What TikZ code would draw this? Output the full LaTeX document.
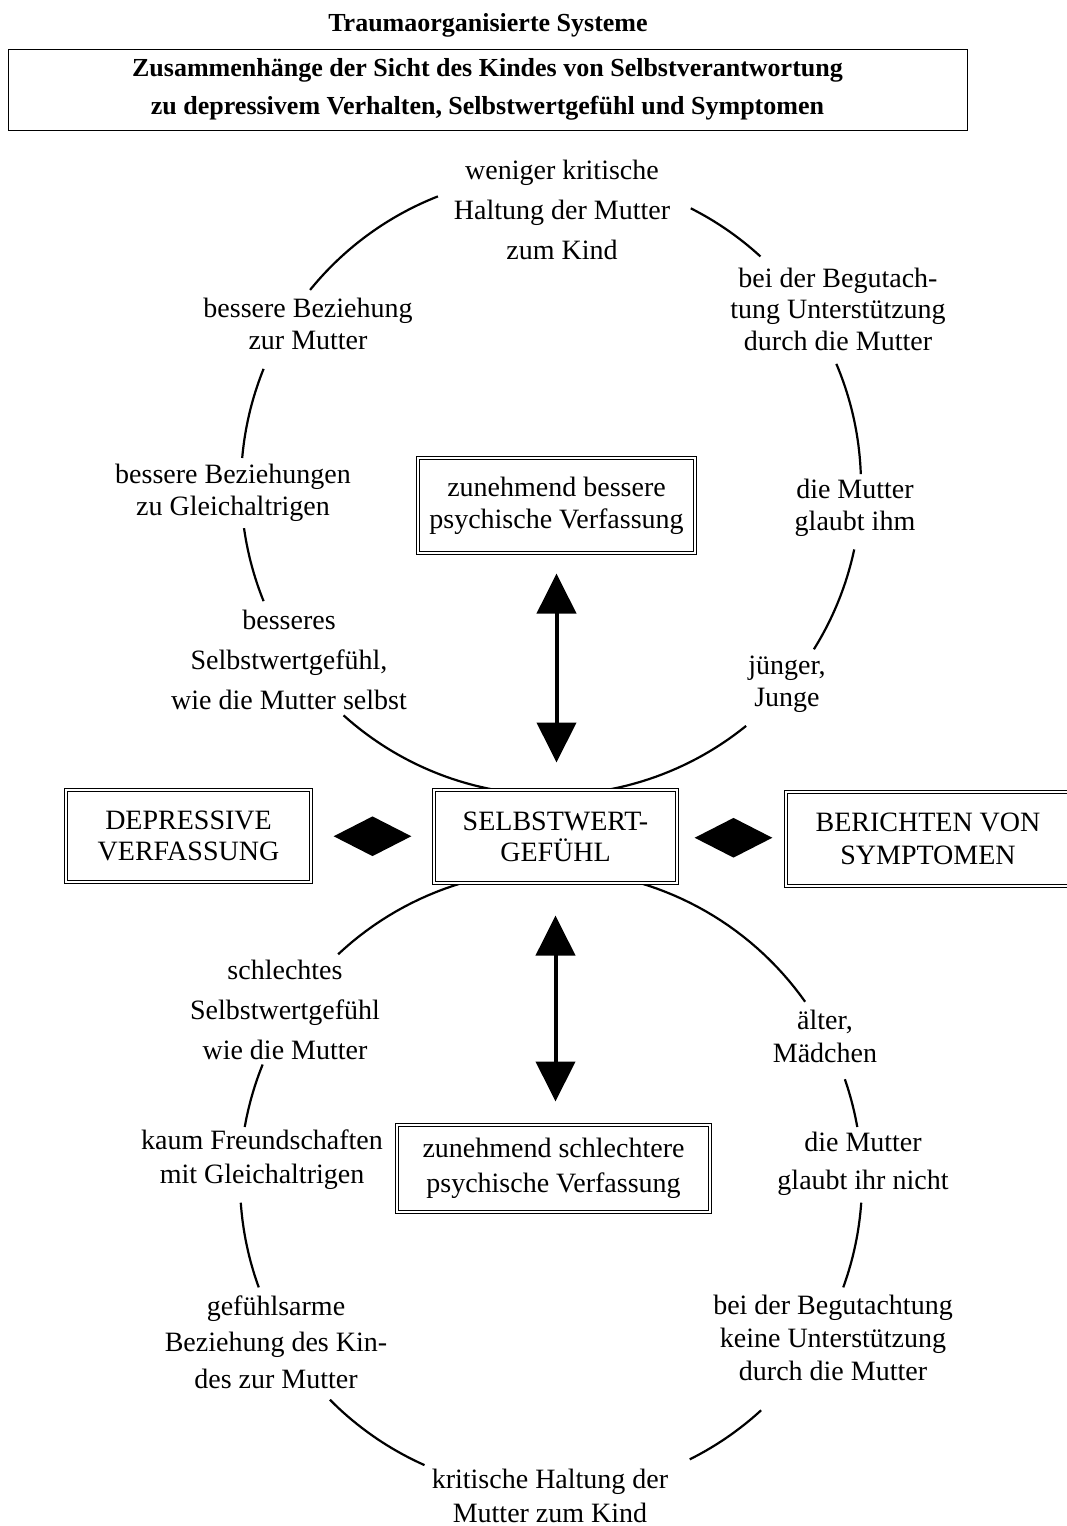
\documentclass[tikz,border=0pt]{standalone}
\usepackage{fontspec}
\setmainfont{Liberation Serif}
\usetikzlibrary{arrows.meta,shapes.geometric,calc}
\begin{document}
\begin{tikzpicture}[x=0.5pt,y=-0.5pt,
  lab/.style={align=center, inner sep=0pt, font=\fontsize{14}{#1}\selectfont},
  lab/.default=16pt,
  frame/.style={draw=black, line width=0.5pt, double=white, double distance=1.2pt,
    fill=white, align=center, inner sep=0pt, font=\fontsize{14}{#1}\selectfont},
  frame/.default=16pt,
  ring/.style={line width=1.1pt},
  dblarrow/.style={line width=2pt, {Triangle[length=20pt,width=19.5pt]}-{Triangle[length=20pt,width=19.5pt]}},
  diam/.style={diamond, fill=black, inner sep=0pt, minimum width=39pt, minimum height=20pt}]
\useasboundingbox (0,0) rectangle (1066,1526);

% upper ring
\draw[ring] plot[domain=111.4:141,samples=30] ({551+310*cos(\x)},{485-310*sin(\x)});
\draw[ring] plot[domain=47.5:63.2,samples=20] ({551+310*cos(\x)},{485-310*sin(\x)});
\draw[ring] plot[domain=158:175,samples=20] ({551+310*cos(\x)},{485-310*sin(\x)});
\draw[ring] plot[domain=2:23,samples=20] ({551+310*cos(\x)},{485-310*sin(\x)});
\draw[ring] plot[domain=188:202,samples=20] ({551+310*cos(\x)},{485-310*sin(\x)});
\draw[ring] plot[domain=-32:-12,samples=20] ({551+310*cos(\x)},{485-310*sin(\x)});
\draw[ring] plot[domain=228:309,samples=60] ({551+310*cos(\x)},{485-310*sin(\x)});

% lower ring
\draw[ring] plot[domain=35.2:133.2,samples=60] ({551+311*cos(\x)},{1181-311*sin(\x)});
\draw[ring] plot[domain=158:170,samples=20] ({551+311*cos(\x)},{1181-311*sin(\x)});
\draw[ring] plot[domain=184:200,samples=20] ({551+311*cos(\x)},{1181-311*sin(\x)});
\draw[ring] plot[domain=224.7:246,samples=20] ({551+311*cos(\x)},{1181-311*sin(\x)});
\draw[ring] plot[domain=296.5:312.5,samples=20] ({551+311*cos(\x)},{1181-311*sin(\x)});
\draw[ring] plot[domain=-20:-4,samples=20] ({551+311*cos(\x)},{1181-311*sin(\x)});
\draw[ring] plot[domain=10:19.1,samples=20] ({551+311*cos(\x)},{1181-311*sin(\x)});

% title and header
\node[font=\bfseries\fontsize{13}{15}\selectfont, inner sep=0pt] (title) at (488,25) {Traumaorganisierte Systeme};
\node[draw=black, line width=0.5pt, align=center, inner sep=0pt,
  minimum width=479.5pt, minimum height=40.5pt,
  font=\bfseries\fontsize{13}{19}\selectfont] (head) at (487.5,89.5)
  {Zusammenhänge der Sicht des Kindes von Selbstverantwortung\\zu depressivem Verhalten, Selbstwertgefühl und Symptomen};

% boxes
\node[frame=16pt, minimum width=138.5pt, minimum height=47.5pt] (ubox) at (556.5,505.5)
  {zunehmend bessere\\psychische Verfassung};
\node[frame=15.5pt, minimum width=121.5pt, minimum height=46.5pt] (sbox) at (555.5,836.5)
  {SELBSTWERT-\\GEFÜHL};
\node[frame=15.5pt, minimum width=122.5pt, minimum height=46pt] (dbox) at (188.5,836)
  {DEPRESSIVE\\VERFASSUNG};
\node[frame=16.5pt, minimum width=142pt, minimum height=47pt] (bbox) at (928,839)
  {BERICHTEN VON\\SYMPTOMEN};
\node[frame=17.5pt, minimum width=156.5pt, minimum height=43.5pt] (lbox) at (553.5,1168.5)
  {zunehmend schlechtere\\psychische Verfassung};

% diamonds
\node[diam] (dl) at ($(dbox.east)!0.5!(sbox.west)$) {};
\node[diam] (dr) at ($(sbox.east)!0.5!(bbox.west)+(2,0)$) {};

% double arrows
\draw[dblarrow, shorten <=10pt, shorten >=13.5pt] (ubox.south) -- (ubox.south |- sbox.north);
\draw[dblarrow, shorten <=16pt, shorten >=11.5pt] (sbox.south) -- (sbox.south |- lbox.north);

% labels upper ring
\node[lab=20pt] (l1) at (562,210) {weniger kritische\\Haltung der Mutter\\zum Kind};
\node[lab=16pt] (l2) at (308,324) {bessere Beziehung\\zur Mutter};
\node[lab=15.75pt] (l3) at (838,309) {bei der Begutach-\\tung Unterstützung\\durch die Mutter};
\node[lab=16pt] (l4) at (233,493) {bessere Beziehungen\\zu Gleichaltrigen};
\node[lab=16pt] (l5) at (855,508) {die Mutter\\glaubt ihm};
\node[lab=20pt] (l6) at (289,660) {besseres\\Selbstwertgefühl,\\wie die Mutter selbst};
\node[lab=16pt] (l7) at (787,684) {jünger,\\Junge};

% labels lower ring
\node[lab=20pt] (l8) at (285,1010) {schlechtes\\Selbstwertgefühl\\wie die Mutter};
\node[lab=17pt] (l9) at (262,1160) {kaum Freundschaften\\mit Gleichaltrigen};
\node[lab=18.25pt] (l10) at (276,1342) {gefühlsarme\\Beziehung des Kin-\\des zur Mutter};
\node[lab=16.5pt] (l11) at (825,1036) {älter,\\Mädchen};
\node[lab=19pt] (l12) at (863,1164) {die Mutter\\glaubt ihr nicht};
\node[lab=16.5pt] (l13) at (833,1338) {bei der Begutachtung\\keine Unterstützung\\durch die Mutter};
\node[lab=17pt] (l14) at (550,1496) {kritische Haltung der\\Mutter zum Kind};
\end{tikzpicture}
\end{document}
